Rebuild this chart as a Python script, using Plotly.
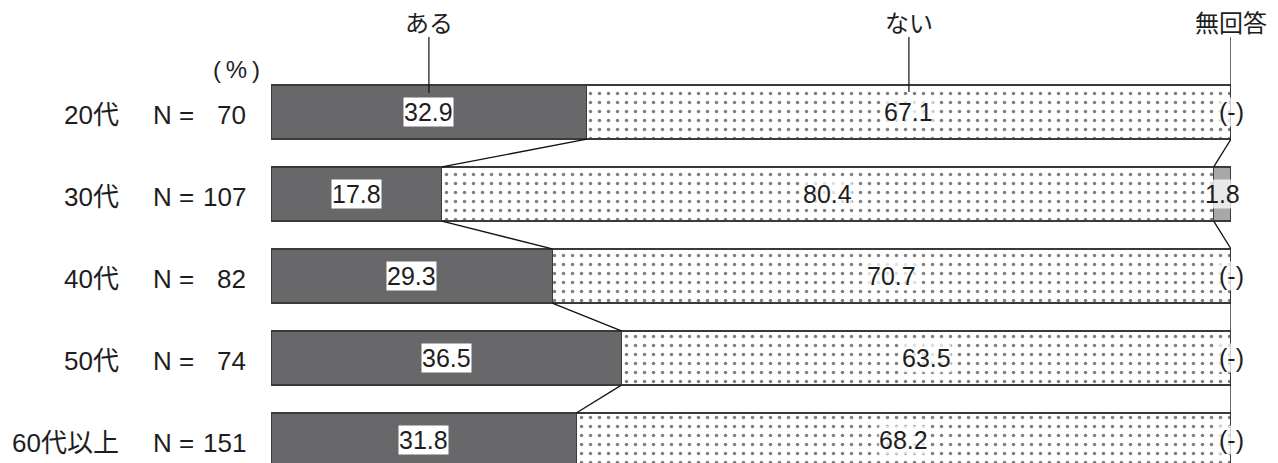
import plotly.graph_objects as go

# Survey results by age group (%)
ages = ["20代", "30代", "40代", "50代", "60代以上"]
counts = [70, 107, 82, 74, 151]
aru = [32.9, 17.8, 29.3, 36.5, 31.8]        # ある
nai = [67.1, 80.4, 70.7, 63.5, 68.2]        # ない
mukaito = [0.0, 1.8, 0.0, 0.0, 0.0]         # 無回答
series_names = ["ある", "ない", "無回答"]

W, H = 1278, 463
TOP, LEFT, RIGHT = 71, 271, 47
BAR_W = 0.66
FONT = "Liberation Sans, Noto Sans CJK JP, sans-serif"
DARK = "#68686b"
LIGHT = "#a8a8a8"
EDGE = "#3a3a3a"
TXT = "#1e1e1e"
rows = list(range(len(ages)))


def paper_y(px):
    """Convert a pixel row (from page top) to paper y."""
    return (H - px) / (H - TOP)


fig = go.Figure()
fig.add_trace(go.Bar(
    y=rows, x=aru, orientation="h", name=series_names[0], width=BAR_W,
    marker=dict(color=DARK, line=dict(color=EDGE, width=1.2)),
))
fig.add_trace(go.Bar(
    y=rows, x=nai, orientation="h", name=series_names[1], width=BAR_W,
    marker=dict(color="white", line=dict(color=EDGE, width=1.2),
                pattern=dict(shape=".", fgcolor="#000000", bgcolor="white",
                             size=9, solidity=0.12, fillmode="overlay")),
))
fig.add_trace(go.Bar(
    y=rows, x=mukaito, orientation="h", name=series_names[2], width=BAR_W,
    marker=dict(color=LIGHT, line=dict(color=EDGE, width=1.2)),
))

shapes = []
annotations = []

# Connector lines between segment boundaries of consecutive rows
for i in range(len(rows) - 1):
    b1 = [aru[i], aru[i] + nai[i]]
    b2 = [aru[i + 1], aru[i + 1] + nai[i + 1]]
    for xa, xb in zip(b1, b2):
        shapes.append(dict(type="line", xref="x", yref="y",
                           x0=xa, y0=rows[i] + BAR_W / 2,
                           x1=xb, y1=rows[i + 1] - BAR_W / 2,
                           line=dict(color="#111111", width=1.3), layer="above"))

# Series headers with leader lines down to the first row
head_x = [aru[0] / 2, aru[0] + nai[0] / 2, aru[0] + nai[0] + mukaito[0] / 2]
head_bottom = [93, 92, 85]
for name, hx, hb in zip(series_names, head_x, head_bottom):
    annotations.append(dict(text=name, xref="x", yref="paper", x=hx, y=paper_y(23),
                            showarrow=False, xanchor="center", yanchor="middle",
                            font=dict(size=24, color=TXT, family=FONT)))
    shapes.append(dict(type="line", xref="x", yref="paper",
                       x0=hx, x1=hx, y0=paper_y(37), y1=paper_y(hb),
                       line=dict(color="#111111", width=1.2), layer="above"))

annotations.append(dict(text="(\u2009%\u2009)", xref="paper", yref="paper", x=0, xshift=-35,
                        y=paper_y(69), showarrow=False, xanchor="center", yanchor="middle",
                        font=dict(size=24, color=TXT, family=FONT)))

# Row labels and segment values
for i, r in enumerate(rows):
    annotations.append(dict(text=ages[i], xref="paper", yref="y", x=0, xshift=-150,
                            y=r, yshift=-3, showarrow=False, xanchor="right",
                            font=dict(size=26, color=TXT, family=FONT)))
    annotations.append(dict(text="N =", xref="paper", yref="y", x=0, xshift=-120,
                            y=r, yshift=-3, showarrow=False, xanchor="left",
                            font=dict(size=26, color=TXT, family=FONT)))
    annotations.append(dict(text=str(counts[i]), xref="paper", yref="y", x=0, xshift=-23,
                            y=r, yshift=-3, showarrow=False, xanchor="right",
                            font=dict(size=26, color=TXT, family=FONT)))

    annotations.append(dict(text=f"{aru[i]:.1f}", xref="x", yref="y", x=aru[i] / 2, y=r,
                            showarrow=False, bgcolor="white", borderpad=0,
                            font=dict(size=25, color=TXT, family=FONT)))
    annotations.append(dict(text=f"{nai[i]:.1f}", xref="x", yref="y",
                            x=aru[i] + nai[i] / 2, y=r,
                            showarrow=False, bgcolor="rgba(255,255,255,0.75)", borderpad=0,
                            font=dict(size=25, color=TXT, family=FONT)))
    m_text = f"{mukaito[i]:.1f}" if mukaito[i] > 0 else "(-)"
    annotations.append(dict(text=m_text, xref="x", yref="y",
                            x=aru[i] + nai[i] + mukaito[i] / 2, y=r,
                            showarrow=False, bgcolor="rgba(255,255,255,0.75)", borderpad=0,
                            font=dict(size=25, color=TXT, family=FONT)))

fig.update_layout(
    width=W, height=H,
    margin=dict(l=LEFT, r=RIGHT, t=TOP, b=0, pad=0),
    barmode="stack",
    showlegend=False,
    plot_bgcolor="white", paper_bgcolor="white",
    xaxis=dict(range=[0, 100], visible=False, fixedrange=True),
    yaxis=dict(range=[4.28, -0.5], visible=False, fixedrange=True),
    shapes=shapes,
    annotations=annotations,
    font=dict(family=FONT),
)

fig.write_html("out.html", config={"displayModeBar": False})
